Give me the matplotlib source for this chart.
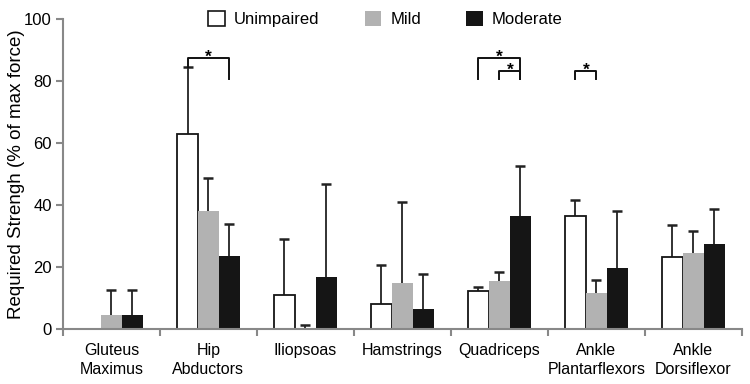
import numpy as np
import matplotlib.pyplot as plt
from matplotlib.patches import Patch

plt.rcParams['font.family'] = ['Liberation Sans', 'DejaVu Sans']

muscles = ['Gluteus\nMaximus', 'Hip\nAbductors', 'Iliopsoas', 'Hamstrings',
           'Quadriceps', 'Ankle\nPlantarflexors', 'Ankle\nDorsiflexor']
groups = ['Unimpaired', 'Mild', 'Moderate']

unimpaired = [0.0, 63.1, 10.9, 8.2, 12.3, 36.6, 23.3]
mild = [4.5, 38.0, 0.3, 14.9, 15.6, 11.8, 24.7]
moderate = [4.5, 23.6, 16.8, 6.5, 36.5, 19.8, 27.6]

unimpaired_sd = [0.0, 21.5, 18.2, 12.4, 1.3, 5.0, 10.2]
mild_sd = [8.1, 10.6, 1.0, 26.2, 2.9, 4.0, 7.0]
moderate_sd = [8.1, 10.2, 29.9, 11.2, 16.2, 18.3, 11.1]

# significance brackets: (muscle index, group a, group b, bar top, leg a bottom, leg b bottom)
brackets = [(1, 0, 2, 87.4, 84.6, 80.8),
            (4, 0, 2, 87.4, 80.8, 80.8),
            (4, 1, 2, 83.2, 80.8, 80.8),
            (5, 0, 1, 83.2, 80.8, 80.8)]

fig = plt.figure(figsize=(7.5, 3.84), dpi=100)
ax = fig.add_axes([0.084, 0.143, 0.905, 0.807])

x = np.arange(len(muscles))
w = 0.216
faces = ['white', '#b2b2b2', '#151515']
data = [unimpaired, mild, moderate]
sds = [unimpaired_sd, mild_sd, moderate_sd]
for i in range(3):
    vals = np.array(data[i])
    err = np.array(sds[i])
    pos = x + (i - 1) * w
    ax.bar(pos, vals, w, color=faces[i], edgecolor='#151515',
           linewidth=1.3 if i == 0 else 0, zorder=2)
    m = err > 0
    # one-sided (upward) error bars, cap only at the top
    ax.vlines(pos[m], vals[m], vals[m] + err[m], color='#222222', lw=1.3, zorder=1)
    ax.plot(pos[m], vals[m] + err[m], ls='none', marker='_', ms=7, mew=1.8,
            color='#222222', zorder=1)

for k, a, b, top, la, lb in brackets:
    xa = k + (a - 1) * w
    xb = k + (b - 1) * w
    ax.plot([xa, xa, xb, xb], [la, top, top, lb], color='#111111', lw=1.4)
    ax.text((xa + xb) / 2, top - 1.2, '*', ha='center', va='baseline',
            fontsize=12.5, fontweight='bold')

ax.set_xlim(-0.5, len(muscles) - 0.5)
ax.set_ylim(0, 100)
ax.set_yticks(np.arange(0, 101, 20))
ax.set_xticks(x)
ax.set_xticklabels(muscles, fontsize=11.5, linespacing=1.35)
ax.set_xticks(np.arange(len(muscles) + 1) - 0.5, minor=True)
ax.tick_params(axis='x', which='major', length=0, pad=10)
ax.tick_params(axis='x', which='minor', length=5, width=1.5, color='#888888')
ax.tick_params(axis='y', length=5, width=1.5, color='#888888', labelsize=12, pad=3)
ax.set_ylabel('Required Strengh (% of max force)', fontsize=13.5)
ax.yaxis.set_label_coords(-0.056, 0.5)
for s in ['top', 'right']:
    ax.spines[s].set_visible(False)
for s in ['left', 'bottom']:
    ax.spines[s].set_color('#888888')
    ax.spines[s].set_linewidth(1.5)

handles = [Patch(facecolor=faces[i], edgecolor='#151515', linewidth=1.2 if i == 0 else 0)
           for i in range(3)]
fig.legend(handles, groups, loc='center', bbox_to_anchor=(0.514, 0.95), ncol=3,
           frameon=False, fontsize=12, handlelength=1.0, handleheight=1.0,
           handletextpad=0.55, columnspacing=2.7)

plt.savefig('out.png', dpi=100)
plt.close()
